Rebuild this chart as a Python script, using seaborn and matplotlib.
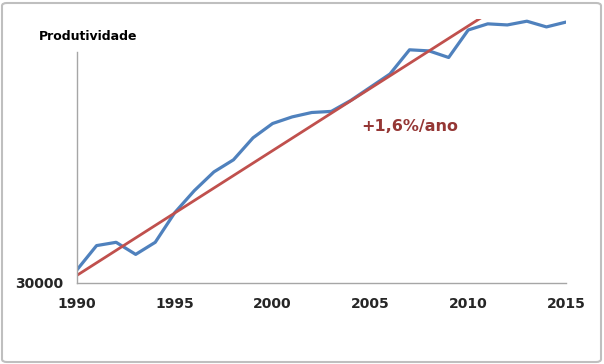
import matplotlib.pyplot as plt
import matplotlib.patches as mpatches
import pandas as pd
import seaborn as sns

# Data
years = list(range(1990, 2016))
produtividade = [
    30600, 31700, 31850, 31300, 31850, 33200, 34200, 35050, 35600, 36600,
    37250, 37550, 37750, 37800, 38300, 38900, 39500, 40600, 40550, 40250,
    41500, 41780, 41730, 41900, 41640, 41860,
]
trend_years = [1990, 2011]
trend_values = [30350, 42250]
trend_label = "+1,6%/ano"
y_label = "Produtividade"

df = pd.DataFrame({"ano": years, "valor": produtividade})
df_trend = pd.DataFrame({"ano": trend_years, "valor": trend_values})

sns.set_style("white")
plt.rcParams["font.family"] = ["DejaVu Sans"]

fig = plt.figure(figsize=(6.04, 3.64), dpi=100)
ax = fig.add_axes([77 / 604, 81 / 364, (566 - 77) / 604, (283 - 19) / 364])

sns.lineplot(data=df, x="ano", y="valor", ax=ax, color="#4f81bd", linewidth=2.3)
sns.lineplot(data=df_trend, x="ano", y="valor", ax=ax, color="#c0504d", linewidth=2.0)

ax.set_xlim(1990, 2015)
ax.set_ylim(30000, 42000)
ax.set_xticks([1990, 1995, 2000, 2005, 2010, 2015])
ax.set_yticks([30000])
ax.set_xlabel("")
ax.set_ylabel("")

for side in ["top", "right"]:
    ax.spines[side].set_visible(False)
for side in ["left", "bottom"]:
    ax.spines[side].set_color("#a6a6a6")
    ax.spines[side].set_linewidth(1.0)
ax.spines["left"].set_bounds(30000, 40500)

ax.tick_params(axis="both", direction="out", length=4, width=1, color="#a6a6a6",
               labelsize=10)
ax.tick_params(axis="x", pad=6)
ax.tick_params(axis="y", pad=6)
for lbl in ax.get_xticklabels() + ax.get_yticklabels():
    lbl.set_fontweight("bold")

fig.text(88 / 604, 1 - 37 / 364, y_label, ha="center", va="center",
         fontsize=9, fontweight="bold", color="black")
ax.text(2007.0, 37100, trend_label, ha="center", va="center",
        fontsize=11.5, fontweight="bold", color="#953735")

# border around the chart
fig.patches.append(mpatches.FancyBboxPatch(
    (2 / 604, 2 / 364), 599 / 604, 359 / 364,
    boxstyle="round,pad=0,rounding_size=0.008", transform=fig.transFigure,
    fill=False, edgecolor="#bfbfbf", linewidth=1.5))

fig.savefig("out.png", dpi=100)
